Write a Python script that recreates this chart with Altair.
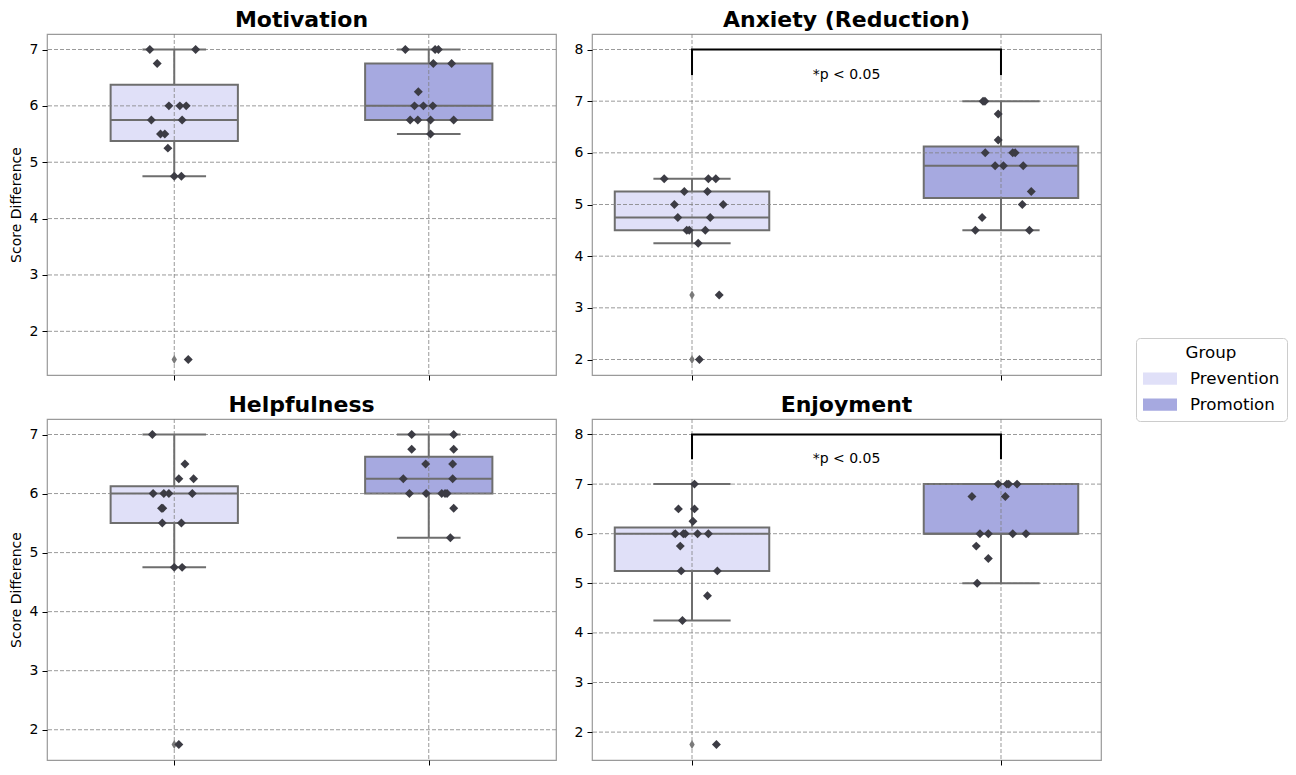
import altair as alt
import pandas as pd

FONT = "DejaVu Sans"
GROUPS = ["Prevention", "Promotion"]
FILLS = ["#e0e0f8", "#a6a9e0"]
LINE = "#6e6e6e"
DOT = "#3c3c44"

# ---------------- data ----------------
# Motivation
mot_prev = [7, 7, 6.75, 6, 6, 6, 5.75, 5.75, 5.5, 5.5, 5.25, 4.75, 4.75, 1.5]
mot_prev_jit = [-0.096, 0.084, -0.067, -0.021, 0.022, 0.047, -0.090, 0.031, -0.054, -0.037, -0.025, 0.0, 0.028, 0.055]
mot_prom = [7, 7, 7, 6.75, 6.75, 6.25, 6, 6, 6, 5.75, 5.75, 5.75, 5.75, 5.5]
mot_prom_jit = [-0.092, 0.025, 0.038, 0.018, 0.090, -0.041, -0.056, -0.021, 0.016, -0.073, -0.043, 0.007, 0.098, 0.007]
mot_q1 = [5.375, 5.75]
mot_med = [5.75, 6.0]
mot_q3 = [6.375, 6.75]
mot_lo = [4.75, 5.5]
mot_hi = [7.0, 7.0]
mot_fliers = [1.5]

# Anxiety (Reduction)
anx_prev = [5.5, 5.5, 5.5, 5.25, 5.25, 5, 5, 4.75, 4.75, 4.5, 4.5, 4.5, 4.25, 3.25, 2]
anx_prev_jit = [-0.090, 0.053, 0.077, -0.025, 0.050, -0.057, 0.101, -0.046, 0.059, -0.017, -0.009, 0.043, 0.020, 0.088, 0.024]
anx_prom = [7, 7, 6.75, 6.25, 6, 6, 6, 5.75, 5.75, 5.75, 5.25, 5, 4.75, 4.5, 4.5]
anx_prom_jit = [-0.058, -0.052, -0.009, -0.009, -0.051, 0.038, 0.046, -0.019, 0.008, 0.072, 0.098, 0.069, -0.061, -0.083, 0.092]
anx_q1 = [4.5, 5.125]
anx_med = [4.75, 5.75]
anx_q3 = [5.25, 6.125]
anx_lo = [4.25, 4.5]
anx_hi = [5.5, 7.0]
anx_fliers = [3.25, 2.0]

# Helpfulness
hel_prev = [7, 6.5, 6.25, 6.25, 6, 6, 6, 6, 5.75, 5.75, 5.5, 5.5, 4.75, 4.75, 1.75]
hel_prev_jit = [-0.086, 0.042, 0.018, 0.076, -0.083, -0.041, -0.021, 0.071, -0.050, -0.045, -0.047, 0.028, 0.0, 0.031, 0.018]
hel_prom = [7, 7, 6.75, 6.75, 6.5, 6.5, 6.25, 6.25, 6, 6, 6, 6, 6, 5.75, 5.25]
hel_prom_jit = [-0.067, 0.098, -0.067, 0.098, -0.012, 0.094, -0.100, 0.094, -0.076, -0.010, 0.051, 0.072, 0.064, 0.098, 0.085]
hel_q1 = [5.5, 6.0]
hel_med = [6.0, 6.25]
hel_q3 = [6.125, 6.625]
hel_lo = [4.75, 5.25]
hel_hi = [7.0, 7.0]
hel_fliers = [1.75]

# Enjoyment
enj_prev = [7, 6.5, 6.5, 6.25, 6, 6, 6, 6, 6, 5.75, 5.25, 5.25, 4.75, 4.25, 1.75]
enj_prev_jit = [0.008, -0.044, 0.008, 0.003, -0.054, -0.028, -0.022, 0.018, 0.053, -0.038, -0.035, 0.082, 0.050, -0.031, 0.079]
enj_prom = [7, 7, 7, 7, 6.75, 6.75, 6, 6, 6, 6, 5.75, 5.5, 5]
enj_prom_jit = [-0.009, 0.019, 0.025, 0.052, -0.094, 0.014, -0.068, -0.041, 0.038, 0.081, -0.080, -0.041, -0.077]
enj_q1 = [5.25, 6.0]
enj_med = [6.0, 6.0]
enj_q3 = [6.125, 7.0]
enj_lo = [4.25, 5.0]
enj_hi = [7.0, 7.0]
enj_fliers = [1.75]

# significance bracket
bracket_x = [0, 0, 1, 1]
bracket_y = [7.5, 8, 8, 7.5]
sig_label = "*p < 0.05"

BOX_HALF = 0.25
CAP_HALF = 0.125


def panel(title, prev, prev_jit, prom, prom_jit, q1, med, q3, lo, hi, fliers,
          ydom, yticks, xdom, ytitle, bracket):
    pts = pd.DataFrame({
        "x": [0 + j for j in prev_jit] + [1 + j for j in prom_jit],
        "value": prev + prom,
        "group": ["Prevention"] * len(prev) + ["Promotion"] * len(prom),
    })
    box = pd.DataFrame({"group": GROUPS, "pos": [0, 1], "q1": q1, "med": med,
                        "q3": q3, "lo": lo, "hi": hi})
    box["xl"] = box["pos"] - BOX_HALF
    box["xr"] = box["pos"] + BOX_HALF
    box["cl"] = box["pos"] - CAP_HALF
    box["cr"] = box["pos"] + CAP_HALF
    fl = pd.DataFrame({"pos": [0] * len(fliers), "v": fliers})
    ygrid = pd.DataFrame({"v": yticks})
    xgrid = pd.DataFrame({"v": [0, 1]})

    xscale = alt.Scale(domain=xdom, nice=False, zero=False)
    yscale = alt.Scale(domain=ydom, nice=False, zero=False)
    xaxis = alt.Axis(values=[0, 1], labels=False, ticks=True, tickSize=5,
                     tickColor="black", tickWidth=1, domain=False, grid=False)
    yaxis = alt.Axis(values=yticks, format="d", tickSize=5, tickColor="black",
                     tickWidth=1, labelFontSize=14, labelColor="black",
                     labelPadding=4, labelFont=FONT, domain=False, grid=False,
                     titleFontSize=14, titleFontWeight="normal", titleColor="black",
                     titleFont=FONT, titlePadding=6)

    def X(f):
        return alt.X(f"{f}:Q", scale=xscale, axis=xaxis, title=None)

    def Y(f):
        return alt.Y(f"{f}:Q", scale=yscale, axis=yaxis, title=ytitle)

    legend = alt.Legend(
        orient="none", legendX=1089, legendY=304, title="Group",
        titleFontSize=16.7, titleFontWeight="normal", titleColor="black",
        titleFont=FONT, titleAnchor="middle", titlePadding=0,
        labelFontSize=16.7, labelColor="black", labelFont=FONT, labelOffset=13,
        symbolType="M-1,-0.36H1V0.36H-1Z", symbolSize=1156, symbolStrokeWidth=0,
        rowPadding=0, padding=7, strokeColor="#cccccc", fillColor="white",
        cornerRadius=4)

    bars = alt.Chart(box).mark_bar(stroke=LINE, strokeWidth=2).encode(
        x=X("xl"), x2="xr", y=Y("q1"), y2="q3",
        color=alt.Color("group:N", scale=alt.Scale(domain=GROUPS, range=FILLS),
                        legend=legend))
    gy = alt.Chart(ygrid).mark_rule(color="#808080", strokeWidth=0.8,
                                    strokeDash=[4, 2]).encode(y=Y("v"))
    gx = alt.Chart(xgrid).mark_rule(color="#808080", strokeWidth=0.8,
                                    strokeDash=[4, 2]).encode(x=X("v"))
    wlo = alt.Chart(box).mark_rule(color=LINE, strokeWidth=2).encode(
        x=X("pos"), y=Y("lo"), y2="q1")
    whi = alt.Chart(box).mark_rule(color=LINE, strokeWidth=2).encode(
        x=X("pos"), y=Y("q3"), y2="hi")
    clo = alt.Chart(box).mark_rule(color=LINE, strokeWidth=2).encode(
        x=X("cl"), x2="cr", y=Y("lo"))
    chi = alt.Chart(box).mark_rule(color=LINE, strokeWidth=2).encode(
        x=X("cl"), x2="cr", y=Y("hi"))
    medl = alt.Chart(box).mark_rule(color=LINE, strokeWidth=2).encode(
        x=X("xl"), x2="xr", y=Y("med"))
    flp = alt.Chart(fl).mark_point(shape="M0,-1L0.6,0L0,1L-0.6,0Z", filled=True,
                                   color="#7a7a7a", opacity=1, size=81).encode(
        x=X("pos"), y=Y("v"))
    dots = alt.Chart(pts).mark_point(shape="diamond", filled=True, color=DOT,
                                     opacity=1, size=80).encode(
        x=X("x"), y=Y("value"))
    layers = [bars, gy, gx, wlo, whi, clo, chi, medl, flp, dots]
    if bracket:
        bdf = pd.DataFrame({"bx": bracket_x, "by": bracket_y, "i": [0, 1, 2, 3]})
        tdf = pd.DataFrame({"tx": [sum(bracket_x) / 4], "ty": [min(bracket_y)],
                            "t": [sig_label]})
        br = alt.Chart(bdf).mark_line(color="black", strokeWidth=2).encode(
            x=X("bx"), y=Y("by"), order="i:Q")
        tx = alt.Chart(tdf).mark_text(font=FONT, fontSize=14, color="black",
                                      align="center", baseline="middle").encode(
            x=X("tx"), y=Y("ty"), text="t:N")
        layers += [br, tx]
    return alt.layer(*layers).properties(
        width=509, height=341,
        title=alt.TitleParams(title, fontSize=22, fontWeight="bold", font=FONT,
                              color="black", anchor="middle", offset=1.5))


LEFT_X = [-0.5, 1.5]
RIGHT_X = [-0.3237, 1.3237]

p1 = panel("Motivation", mot_prev, mot_prev_jit, mot_prom, mot_prom_jit,
           mot_q1, mot_med, mot_q3, mot_lo, mot_hi, mot_fliers,
           [1.225, 7.275], [2, 3, 4, 5, 6, 7], LEFT_X, "Score Difference", False)
p2 = panel("Anxiety (Reduction)", anx_prev, anx_prev_jit, anx_prom, anx_prom_jit,
           anx_q1, anx_med, anx_q3, anx_lo, anx_hi, anx_fliers,
           [1.7, 8.3], [2, 3, 4, 5, 6, 7, 8], RIGHT_X, None, True)
p3 = panel("Helpfulness", hel_prev, hel_prev_jit, hel_prom, hel_prom_jit,
           hel_q1, hel_med, hel_q3, hel_lo, hel_hi, hel_fliers,
           [1.4875, 7.2625], [2, 3, 4, 5, 6, 7], LEFT_X, "Score Difference", False)
p4 = panel("Enjoyment", enj_prev, enj_prev_jit, enj_prom, enj_prom_jit,
           enj_q1, enj_med, enj_q3, enj_lo, enj_hi, enj_fliers,
           [1.4375, 8.3125], [2, 3, 4, 5, 6, 7, 8], RIGHT_X, None, True)

chart = alt.vconcat(
    alt.hconcat(p1, p2, spacing=16),
    alt.hconcat(p3, p4, spacing=16),
    spacing=11,
).properties(padding=0, background="white").configure(font=FONT).configure_view(
    stroke="#9a9a9a", strokeWidth=1.2)

chart.save("out.html", embed_options={"renderer": "svg", "actions": False})
